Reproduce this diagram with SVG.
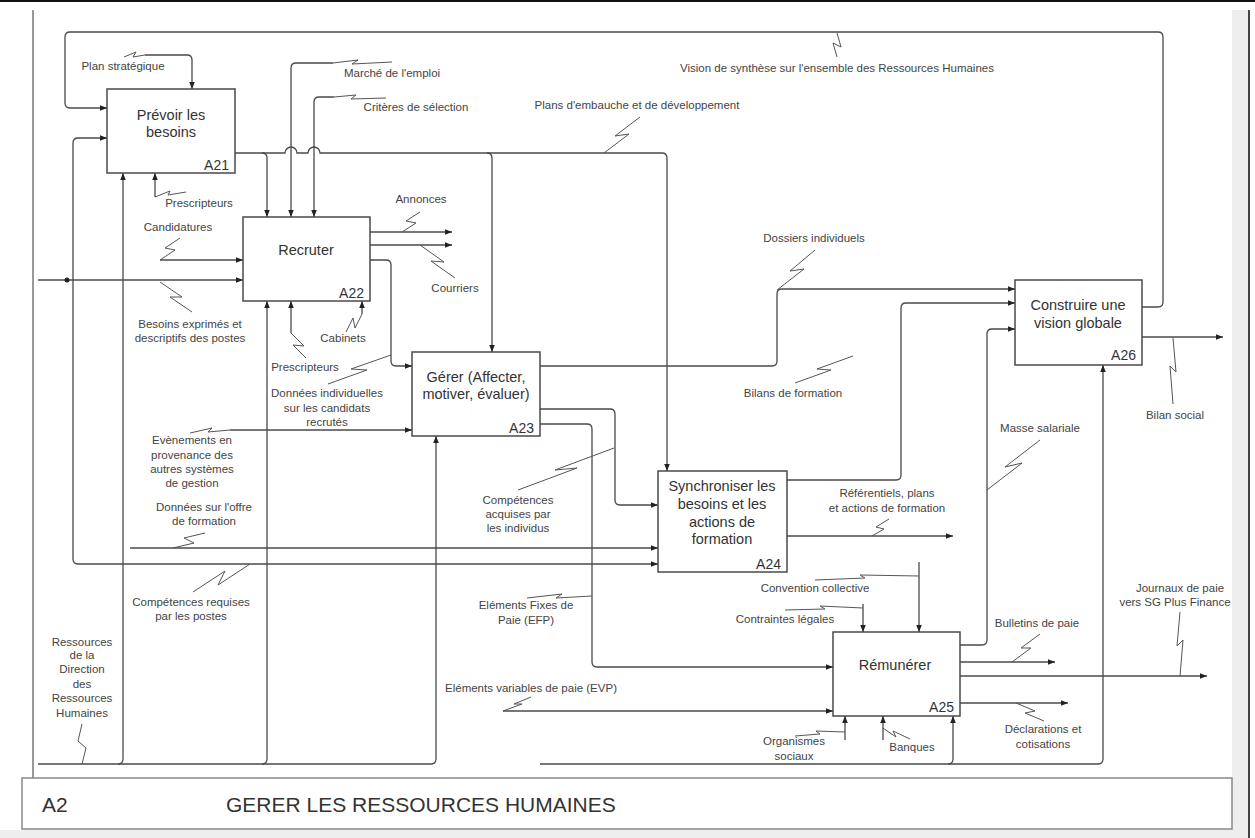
<svg xmlns="http://www.w3.org/2000/svg" width="1255" height="838" viewBox="0 0 1255 838">
  <defs>
    <marker id="arr" viewBox="0 0 10 10" refX="10" refY="5" markerWidth="7" markerHeight="7" orient="auto" markerUnits="userSpaceOnUse">
      <path d="M0,1 L10,5 L0,9 z" fill="#222"/>
    </marker>
    <style>
      .box { fill: #fff; stroke: #4a4a4a; stroke-width: 1.5; }
      .ttl { font-family: "Liberation Sans", Arial, sans-serif; font-size: 14.5px; fill: #333; text-anchor: middle; }
      .num { font-family: "Liberation Sans", Arial, sans-serif; font-size: 14px; fill: #333; text-anchor: end; }
      .c { fill: none; stroke: #4a4a4a; stroke-width: 1.3; }
      .a { marker-end: url(#arr); }
      .sq { fill: none; stroke: #555; stroke-width: 1; }
      .lb { font-family: "Liberation Sans", Arial, sans-serif; font-size: 11.5px; fill: #444; text-anchor: middle; }
      .frame { font-family: "Liberation Sans", Arial, sans-serif; font-size: 21px; fill: #333; }
    </style>
  </defs>

  <rect x="0" y="0" width="1255" height="838" fill="#fff"/>

  <!-- page frame -->
  <g id="frame">
    <line x1="0" y1="1" x2="1255" y2="1" stroke="#111" stroke-width="2"/>
    <line x1="33" y1="10" x2="33" y2="778" stroke="#999" stroke-width="2"/>
    <rect x="1232" y="10" width="16" height="828" fill="#eeeeee"/>
    <line x1="1249" y1="10" x2="1249" y2="838" stroke="#444" stroke-width="2"/>
    <rect x="0" y="830" width="1232" height="8" fill="#eeeeee"/>
    <rect x="22" y="778" width="1210" height="51" fill="#fff" stroke="#888" stroke-width="1.5"/>
    <text class="frame" x="42" y="812">A2</text>
    <text class="frame" x="226" y="812">GERER LES RESSOURCES HUMAINES</text>
  </g>

  <!-- connectors -->
  <g id="connectors">
    <!-- overall feedback loop from A26 to A21 -->
    <path class="c a" d="M1142,307 H1158 Q1163,307 1163,302 V37 Q1163,32 1158,32 H70 Q65,32 65,37 V103 Q65,108 70,108 H107"/>
    <!-- Plan stratégique -->
    <path class="c a" d="M145,55 H187 Q192,55 192,60 V89"/>
    <!-- A21 output: plans d'embauche -->
    <path class="c a" d="M235,153 H262 Q267,153 267,158 V217"/>
    <path class="c a" d="M262,153 H285 A6,6 0 0 1 297,153 H308 A6,6 0 0 1 320,153 H487 Q492,153 492,158 V352"/>
    <path class="c a" d="M487,153 H662 Q667,153 667,158 V471"/>
    <!-- Marché de l'emploi / Critères de sélection -->
    <path class="c a" d="M333,63 H296 Q291,63 291,68 V217"/>
    <path class="c a" d="M334,97 H319 Q314,97 314,102 V217"/>
    <!-- Besoins exprimés: inputs to A22, A21, A24 -->
    <path class="c a" d="M38,280 H243"/>
    <circle cx="67" cy="280" r="2.5" fill="#222"/>
    <path class="c a" d="M73,280 V143 Q73,138 78,138 H107"/>
    <path class="c a" d="M73,280 V559 Q73,564 78,564 H658"/>
    <!-- mechanism bar (left) -->
    <path class="c a" d="M38,764 H118 Q123,764 123,759 V173"/>
    <path class="c a" d="M118,764 H262 Q267,764 267,759 V301"/>
    <path class="c a" d="M262,764 H431 Q436,764 436,759 V436"/>
    <!-- Prescripteurs to A21 -->
    <path class="c a" d="M155,197 V173"/>
    <!-- Candidatures -->
    <path class="c a" d="M160,260 H243"/>
    <!-- A22 mechanisms -->
    <path class="c a" d="M291,333 V301"/>
    <path class="c a" d="M362,314 V301"/>
    <!-- A22 outputs -->
    <path class="c a" d="M370,232 H452"/>
    <path class="c a" d="M370,245 H452"/>
    <path class="c a" d="M370,260 H386 Q391,260 391,265 V361 Q391,366 396,366 H412"/>
    <!-- Evènements -->
    <path class="c a" d="M230,430 H412"/>
    <!-- A23 outputs -->
    <path class="c a" d="M540,366 H772 Q777,366 777,361 V294 Q777,289 782,289 H1015"/>
    <path class="c a" d="M540,409 H610 Q615,409 615,414 V500 Q615,505 620,505 H658"/>
    <path class="c a" d="M540,424 H587 Q592,424 592,429 V662 Q592,667 597,667 H833"/>
    <!-- Données sur l'offre de formation -->
    <path class="c a" d="M130,548 H658"/>
    <!-- A24 outputs -->
    <path class="c a" d="M787,480 H896 Q901,480 901,475 V308 Q901,303 906,303 H1015"/>
    <path class="c a" d="M787,536 H953"/>
    <!-- A25 controls -->
    <path class="c a" d="M919,562 V632"/>
    <path class="c a" d="M863,604 V632"/>
    <!-- EVP -->
    <path class="c a" d="M503,711 H833"/>
    <!-- mechanism bar (right) -->
    <path class="c a" d="M540,764 H948 Q953,764 953,759 V716"/>
    <path class="c a" d="M948,764 H1098 Q1103,764 1103,759 V365"/>
    <!-- A25 mechanisms -->
    <path class="c a" d="M845,740 V716"/>
    <path class="c a" d="M883,740 V716"/>
    <!-- A25 outputs -->
    <path class="c a" d="M960,662 H1055"/>
    <path class="c a" d="M960,676 H1207"/>
    <path class="c a" d="M960,703 H1068"/>
    <path class="c a" d="M960,645 H982 Q987,645 987,640 V334 Q987,329 992,329 H1015"/>
    <!-- A26 output -->
    <path class="c a" d="M1142,337 H1223"/>

    <!-- label squiggles -->
    <path class="sq" d="M837,33 L841,47 L833,43 L837,57"/>
    <path class="sq" d="M124,57 L136,52 L133,57 L145,55"/>
    <path class="sq" d="M333,63 L358,60 L352,64 L392,62"/>
    <path class="sq" d="M334,97 L356,95 L351,99 L386,98"/>
    <path class="sq" d="M604,153 L629,134 L615,136 L640,117"/>
    <path class="sq" d="M155,197 L170,191 L168,195 L186,192"/>
    <path class="sq" d="M160,260 L175,250 L165,248 L180,238"/>
    <path class="sq" d="M160,282 L182,297 L170,297 L192,312"/>
    <path class="sq" d="M291,333 L304,346 L293,345 L306,358"/>
    <path class="sq" d="M362,314 L355,328 L353,318 L346,332"/>
    <path class="sq" d="M402,232 L416,223 L406,221 L420,212"/>
    <path class="sq" d="M420,245 L444,262 L431,261 L455,278"/>
    <path class="sq" d="M328,384 L367,370 L351,369 L391,355"/>
    <path class="sq" d="M190,433 L212,428 L208,432 L230,430"/>
    <path class="sq" d="M173,548 L194,543 L184,538 L205,533"/>
    <path class="sq" d="M250,564 L218,585 L225,571 L193,592"/>
    <path class="sq" d="M82,764 L86,748 L78,741 L82,724"/>
    <path class="sq" d="M777,290 L804,269 L790,271 L815,250"/>
    <path class="sq" d="M795,383 L831,370 L817,369 L853,356"/>
    <path class="sq" d="M518,490 L577,468 L555,470 L614,448"/>
    <path class="sq" d="M527,598 L562,594 L556,598 L592,596"/>
    <path class="sq" d="M503,711 L522,704 L514,704 L531,697"/>
    <path class="sq" d="M872,536 L884,529 L876,527 L889,519"/>
    <path class="sq" d="M815,580 L865,578 L860,575 L919,576"/>
    <path class="sq" d="M785,610 L825,609 L820,606 L863,608"/>
    <path class="sq" d="M987,490 L1022,463 L1005,467 L1040,440"/>
    <path class="sq" d="M1173,338 L1176,372 L1170,366 L1173,404"/>
    <path class="sq" d="M1012,662 L1031,648 L1021,648 L1040,634"/>
    <path class="sq" d="M1180,676 L1183,640 L1177,646 L1180,612"/>
    <path class="sq" d="M1016,703 L1035,711 L1025,713 L1044,721"/>
    <path class="sq" d="M795,736 L820,734 L816,731 L845,732"/>
    <path class="sq" d="M883,728 L896,737 L893,731 L910,739"/>
  </g>

  <!-- arrow labels -->
  <g id="labels">
    <text class="lb" x="837" y="72">Vision de synthèse sur l'ensemble des Ressources Humaines</text>
    <text class="lb" x="123" y="70">Plan stratégique</text>
    <text class="lb" x="392" y="77">Marché de l'emploi</text>
    <text class="lb" x="416" y="111">Critères de sélection</text>
    <text class="lb" x="637" y="109">Plans d'embauche et de développement</text>
    <text class="lb" x="199" y="207">Prescripteurs</text>
    <text class="lb" x="178" y="231">Candidatures</text>
    <text class="lb" x="190" y="328">Besoins exprimés et</text>
    <text class="lb" x="190" y="342">descriptifs des postes</text>
    <text class="lb" x="305" y="371">Prescripteurs</text>
    <text class="lb" x="343" y="342">Cabinets</text>
    <text class="lb" x="421" y="203">Annonces</text>
    <text class="lb" x="455" y="292">Courriers</text>
    <text class="lb" x="327" y="397">Données individuelles</text>
    <text class="lb" x="327" y="412">sur les candidats</text>
    <text class="lb" x="327" y="426">recrutés</text>
    <text class="lb" x="192" y="444">Evènements en</text>
    <text class="lb" x="192" y="459">provenance des</text>
    <text class="lb" x="192" y="473">autres systèmes</text>
    <text class="lb" x="192" y="487">de gestion</text>
    <text class="lb" x="204" y="511">Données sur l'offre</text>
    <text class="lb" x="204" y="525">de formation</text>
    <text class="lb" x="191" y="606">Compétences requises</text>
    <text class="lb" x="191" y="620">par les postes</text>
    <text class="lb" x="82" y="646">Ressources</text>
    <text class="lb" x="82" y="659">de la</text>
    <text class="lb" x="82" y="673">Direction</text>
    <text class="lb" x="82" y="688">des</text>
    <text class="lb" x="82" y="702">Ressources</text>
    <text class="lb" x="82" y="717">Humaines</text>
    <text class="lb" x="814" y="242">Dossiers individuels</text>
    <text class="lb" x="793" y="397">Bilans de formation</text>
    <text class="lb" x="518" y="504">Compétences</text>
    <text class="lb" x="518" y="518">acquises par</text>
    <text class="lb" x="518" y="532">les individus</text>
    <text class="lb" x="526" y="609">Eléments Fixes de</text>
    <text class="lb" x="526" y="624">Paie (EFP)</text>
    <text class="lb" x="531" y="692">Eléments variables de paie (EVP)</text>
    <text class="lb" x="887" y="497">Référentiels, plans</text>
    <text class="lb" x="887" y="512">et actions de formation</text>
    <text class="lb" x="815" y="592">Convention collective</text>
    <text class="lb" x="785" y="623">Contraintes légales</text>
    <text class="lb" x="1040" y="432">Masse salariale</text>
    <text class="lb" x="1175" y="419">Bilan social</text>
    <text class="lb" x="1037" y="627">Bulletins de paie</text>
    <text class="lb" x="1180" y="592">Journaux de paie</text>
    <text class="lb" x="1175" y="606">vers SG Plus Finance</text>
    <text class="lb" x="1043" y="733">Déclarations et</text>
    <text class="lb" x="1043" y="748">cotisations</text>
    <text class="lb" x="794" y="745">Organismes</text>
    <text class="lb" x="794" y="760">sociaux</text>
    <text class="lb" x="912" y="751">Banques</text>
  </g>

  <!-- activity boxes -->
  <g id="A21">
    <rect class="box" x="107" y="89" width="128" height="84"/>
    <text class="ttl" x="171" y="120">Prévoir les</text>
    <text class="ttl" x="171" y="137">besoins</text>
    <text class="num" x="229" y="170">A21</text>
  </g>
  <g id="A22">
    <rect class="box" x="243" y="217" width="127" height="84"/>
    <text class="ttl" x="306" y="255">Recruter</text>
    <text class="num" x="364" y="298">A22</text>
  </g>
  <g id="A23">
    <rect class="box" x="412" y="352" width="128" height="84"/>
    <text class="ttl" x="476" y="382">Gérer (Affecter,</text>
    <text class="ttl" x="476" y="399">motiver, évaluer)</text>
    <text class="num" x="534" y="433">A23</text>
  </g>
  <g id="A24">
    <rect class="box" x="658" y="471" width="129" height="101"/>
    <text class="ttl" x="722" y="491">Synchroniser les</text>
    <text class="ttl" x="722" y="509">besoins et les</text>
    <text class="ttl" x="722" y="527">actions de</text>
    <text class="ttl" x="722" y="544">formation</text>
    <text class="num" x="781" y="569">A24</text>
  </g>
  <g id="A25">
    <rect class="box" x="833" y="632" width="127" height="84"/>
    <text class="ttl" x="895" y="670">Rémunérer</text>
    <text class="num" x="954" y="712">A25</text>
  </g>
  <g id="A26">
    <rect class="box" x="1015" y="280" width="127" height="85"/>
    <text class="ttl" x="1078" y="310">Construire une</text>
    <text class="ttl" x="1078" y="328">vision globale</text>
    <text class="num" x="1136" y="360">A26</text>
  </g>
</svg>
